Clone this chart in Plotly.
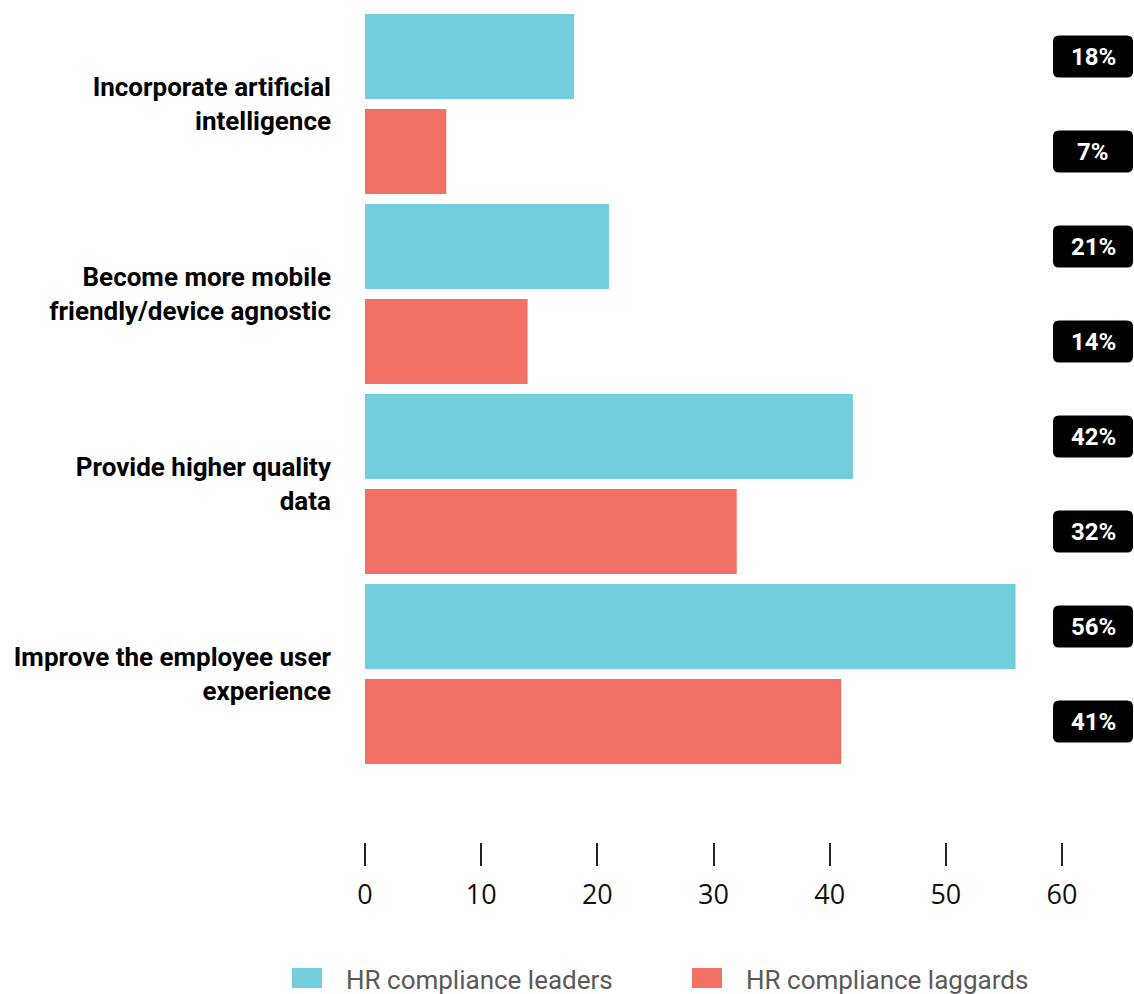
import plotly.graph_objects as go

# ---- data -------------------------------------------------------------
categories = [
    "Incorporate artificial<br>intelligence",
    "Become more mobile<br>friendly/device agnostic",
    "Provide higher quality<br>data",
    "Improve the employee user<br>experience",
]
leaders = [18, 21, 42, 56]
laggards = [7, 14, 32, 41]
series_names = ["HR compliance leaders", "HR compliance laggards"]
x_ticks = [0, 10, 20, 30, 40, 50, 60]

# ---- styling ----------------------------------------------------------
LEADER_COLOR = "#72CDDC"
LAGGARD_COLOR = "#F37065"
W, H = 1134, 994
M_L, M_R, M_T, M_B = 365, 72, 9, 152
PLOT_W = W - M_L - M_R
PLOT_H = H - M_T - M_B


def px_x(x):
    """Pixel column -> paper x."""
    return (x - M_L) / PLOT_W


def px_y(y):
    """Pixel row -> paper y."""
    return (H - M_B - y) / PLOT_H


y_pos = list(range(len(categories)))

fig = go.Figure()
fig.add_trace(go.Bar(y=y_pos, x=leaders, orientation="h", name=series_names[0],
                     marker=dict(color=LEADER_COLOR, line=dict(width=0))))
fig.add_trace(go.Bar(y=y_pos, x=laggards, orientation="h", name=series_names[1],
                     marker=dict(color=LAGGARD_COLOR, line=dict(width=0))))


def rounded_rect(x0, x1, y0, y1, r):
    return (f"M{x0 + r},{y0} L{x1 - r},{y0} Q{x1},{y0} {x1},{y0 + r} "
            f"L{x1},{y1 - r} Q{x1},{y1} {x1 - r},{y1} L{x0 + r},{y1} "
            f"Q{x0},{y1} {x0},{y1 - r} L{x0},{y0 + r} Q{x0},{y0} {x0 + r},{y0} Z")


shapes = []
annotations = []
# value badges at the right, aligned with each bar
for i in y_pos:
    for vals, off in ((leaders, -0.25), (laggards, 0.25)):
        yc = i + off
        shapes.append(dict(
            type="path", xref="paper", yref="y",
            xsizemode="pixel", ysizemode="pixel",
            xanchor=1, yanchor=yc,
            path=rounded_rect(-9, 71, -21, 21, 6),
            fillcolor="#000000", line=dict(width=0), layer="above",
        ))
        annotations.append(dict(
            x=1, xref="paper", xshift=31, y=yc, yref="y",
            text=f"<b>{vals[i]}%</b>", showarrow=False,
            font=dict(family="Roboto", size=24, color="#FFFFFF"),
            xanchor="center", yanchor="middle",
        ))

# legend drawn below the axis
legend_items = [(series_names[0], LEADER_COLOR, 292), (series_names[1], LAGGARD_COLOR, 692)]
for name, color, sx in legend_items:
    shapes.append(dict(
        type="rect", xref="paper", yref="paper",
        x0=px_x(sx), x1=px_x(sx + 30), y0=px_y(988), y1=px_y(968),
        fillcolor=color, line=dict(width=0),
    ))
    annotations.append(dict(
        x=px_x(sx + 52), xref="paper", y=px_y(980), yref="paper",
        text=name, showarrow=False, xanchor="left", yanchor="middle",
        font=dict(family="Roboto", size=26, color="#595959"),
    ))

fig.update_layout(
    width=W, height=H,
    margin=dict(l=M_L, r=M_R, t=M_T, b=M_B),
    plot_bgcolor="#FFFFFF", paper_bgcolor="#FFFFFF",
    barmode="group", bargap=0, bargroupgap=10 / 95,
    showlegend=False,
    shapes=shapes, annotations=annotations,
    xaxis=dict(
        range=[0, 60], tickmode="array", tickvals=x_ticks,
        ticktext=[str(t) for t in x_ticks],
        ticks="outside", ticklen=23, tickwidth=2, tickcolor="#222222",
        showline=False, showgrid=False, zeroline=False,
        tickfont=dict(family="Open Sans", size=27, color="#111111"),
        ticklabelstandoff=6,
    ),
    yaxis=dict(
        range=[len(categories) - 0.5 + (PLOT_H / 190 - len(categories)), -0.5],
        tickmode="array", tickvals=y_pos, ticktext=categories,
        ticks="", showline=False, showgrid=False, zeroline=False,
        tickfont=dict(family="Roboto", size=26, color="#000000", weight=700),
        ticklabelstandoff=33,
    ),
)

fig.write_html("out.html")
